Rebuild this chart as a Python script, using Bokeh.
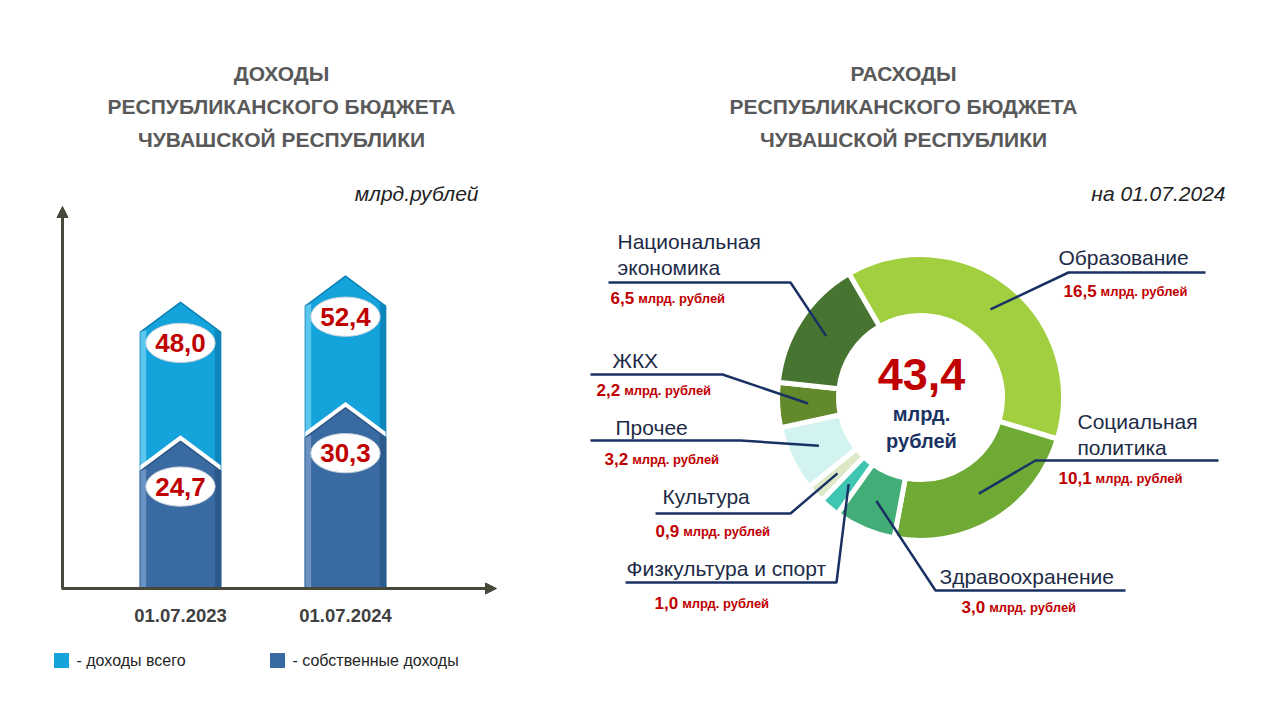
import math
from bokeh.plotting import figure
from bokeh.models import Range1d, ColumnDataSource, Arrow, NormalHead
from bokeh.core.properties import value
from bokeh.embed import file_html
from bokeh.resources import INLINE

W, H = 1280, 720

# ---------------- data ----------------
bar_dates = ["01.07.2023", "01.07.2024"]
total_income = [48.0, 52.4]
own_income = [24.7, 30.3]
legend_labels = ["- доходы всего", "- собственные доходы"]

exp_categories = ["Образование", "Социальная политика", "Здравоохранение",
                  "Физкультура и спорт", "Культура", "Прочее", "ЖКХ",
                  "Национальная экономика"]
exp_values = [16.5, 10.1, 3.0, 1.0, 0.9, 3.2, 2.2, 6.5]
exp_total = 43.4
exp_colors = ["#a2cf3f", "#6eaa34", "#43ad78", "#3fc6b2", "#dde8c6",
              "#d3f3f0", "#62892a", "#477531"]

left_title = ["ДОХОДЫ", "РЕСПУБЛИКАНСКОГО БЮДЖЕТА", "ЧУВАШСКОЙ РЕСПУБЛИКИ"]
right_title = ["РАСХОДЫ", "РЕСПУБЛИКАНСКОГО БЮДЖЕТА", "ЧУВАШСКОЙ РЕСПУБЛИКИ"]

FONT = value("Liberation Sans")
RED = "#c00000"
NAVY = "#1a3263"
GREY = "#595959"
LIGHT = "#14a3da"
DARK = "#3a6aa2"


def Y(sy):
    return H - sy


def fmt(v):
    return f"{v:.1f}".replace(".", ",")


p = figure(width=W, height=H, x_range=Range1d(0, W), y_range=Range1d(0, H),
           output_backend="svg", toolbar_location=None, min_border=0,
           x_axis_location=None, y_axis_location=None, outline_line_color=None,
           background_fill_color="white", border_fill_color="white")
p.grid.visible = False

# ---------------- titles ----------------
for cx, lines in [(281, left_title), (903, right_title)]:
    p.text(x=[cx] * 3, y=[Y(73), Y(106), Y(139)], text=lines,
           text_align="center", text_baseline="middle", text_font=FONT,
           text_font_size="21px", text_font_style="bold", text_color=GREY)

p.text(x=[478], y=[Y(193)], text=["млрд.рублей"], text_align="right",
       text_baseline="middle", text_font=FONT, text_font_size="21px",
       text_font_style="italic", text_color="#222222")
p.text(x=[1225], y=[Y(193)], text=["на 01.07.2024"], text_align="right",
       text_baseline="middle", text_font=FONT, text_font_size="21px",
       text_font_style="italic", text_color="#222222")

# ---------------- bar chart scales ----------------
base_sy = 588
k = 5.96          # px per unit
cat_x0, cat_step = 180, 165
p.extra_y_ranges = {"val": Range1d(start=-(H - base_sy) / k, end=base_sy / k)}
p.extra_x_ranges = {"cat": Range1d(start=-cat_x0 / cat_step, end=(W - cat_x0) / cat_step)}

hw = 0.243   # half bar width (cat units)
a = 5.0      # arrow tip height (value units)
idx = list(range(len(bar_dates)))


def chevron(i, v):
    return [i - hw, i - hw, i, i + hw, i + hw], [0, v - a, v, v - a, 0]


def strip(i, v, left=True):
    # narrow bevel strip along a side edge
    s = 0.035
    if left:
        return [i - hw, i - hw, i - hw + s, i - hw + s], [0, v - a, v - a + 0.4, 0]
    return [i + hw - s, i + hw - s, i + hw, i + hw], [0, v - a + 0.4, v - a, 0]


lx, ly = zip(*[chevron(i, v) for i, v in zip(idx, total_income)])
p.patches(xs=list(lx), ys=list(ly), fill_color=LIGHT, line_color="#0b7fb3",
          line_width=1.5, x_range_name="cat", y_range_name="val")
sx, sy = zip(*[strip(i, v, True) for i, v in zip(idx, total_income)])
p.patches(xs=list(sx), ys=list(sy), fill_color="#5cc6ee", line_color=None,
          x_range_name="cat", y_range_name="val")
sx, sy = zip(*[strip(i, v, False) for i, v in zip(idx, total_income)])
p.patches(xs=list(sx), ys=list(sy), fill_color="#0c86bb", line_color=None,
          x_range_name="cat", y_range_name="val")

wx, wy = zip(*[chevron(i, v + 1.0) for i, v in zip(idx, own_income)])
p.patches(xs=list(wx), ys=list(wy), fill_color="white", line_color=None,
          x_range_name="cat", y_range_name="val")
dx, dy = zip(*[chevron(i, v) for i, v in zip(idx, own_income)])
p.patches(xs=list(dx), ys=list(dy), fill_color=DARK, line_color="#2c5686",
          line_width=1.5, x_range_name="cat", y_range_name="val")
sx, sy = zip(*[strip(i, v, True) for i, v in zip(idx, own_income)])
p.patches(xs=list(sx), ys=list(sy), fill_color="#6a93c4", line_color=None,
          x_range_name="cat", y_range_name="val")
sx, sy = zip(*[strip(i, v, False) for i, v in zip(idx, own_income)])
p.patches(xs=list(sx), ys=list(sy), fill_color="#2d5a8c", line_color=None,
          x_range_name="cat", y_range_name="val")

# value ellipses and labels
ell_y = [v - 6.8 for v in total_income] + [v - 7.6 for v in own_income]
ell_x = idx + idx
p.ellipse(x=ell_x, y=ell_y, width=0.42, height=6.6, fill_color="white",
          line_color="#c8d2dc", line_width=1, x_range_name="cat", y_range_name="val")
p.text(x=ell_x, y=ell_y, text=[fmt(v) for v in total_income + own_income],
       text_align="center", text_baseline="middle", text_font=FONT,
       text_font_size="26px", text_font_style="bold", text_color=RED,
       x_range_name="cat", y_range_name="val")

# category labels
p.text(x=idx, y=[Y(615)] * len(idx), text=bar_dates, text_align="center",
       text_baseline="middle", text_font=FONT, text_font_size="18.5px",
       text_font_style="bold", text_color="#404040", x_range_name="cat")

# axes with arrows
AX = "#47473a"
p.add_layout(Arrow(end=NormalHead(size=11, fill_color=AX, line_color=AX),
                   x_start=62, y_start=Y(588), x_end=62, y_end=Y(206),
                   line_color=AX, line_width=3))
p.add_layout(Arrow(end=NormalHead(size=11, fill_color=AX, line_color=AX),
                   x_start=61, y_start=Y(588), x_end=496, y_end=Y(588),
                   line_color=AX, line_width=3))

# legend
p.rect(x=[61, 277], y=[Y(660)] * 2, width=15, height=15,
       fill_color=[LIGHT, DARK], line_color=None)
p.text(x=[76, 292], y=[Y(660)] * 2, text=legend_labels, text_align="left",
       text_baseline="middle", text_font=FONT, text_font_size="16px",
       text_color="#262626")

# ---------------- donut ----------------
cx, cy = 920, Y(397)
r_in, r_out = 82, 143
start_deg = 120.0
tot = sum(exp_values)
starts, ends, mids = [], [], []
cum = 0.0
for v in exp_values:
    a0 = start_deg - cum / tot * 360.0
    a1 = a0 - v / tot * 360.0
    starts.append(math.radians(a0))
    ends.append(math.radians(a1))
    mids.append(math.radians((a0 + a1) / 2))
    cum += v

src = ColumnDataSource(dict(start=starts, end=ends, color=exp_colors, cat=exp_categories))
p.annular_wedge(x=cx, y=cy, inner_radius=r_in, outer_radius=r_out,
                start_angle="start", end_angle="end", direction="clock",
                fill_color="color", line_color="white", line_width=5, source=src)

# center text
p.text(x=[cx + 1], y=[Y(374)], text=[fmt(exp_total)], text_align="center",
       text_baseline="middle", text_font=FONT, text_font_size="45px",
       text_font_style="bold", text_color=RED)
p.text(x=[cx + 1, cx + 1], y=[Y(413), Y(440)], text=["млрд.", "рублей"],
       text_align="center", text_baseline="middle", text_font=FONT,
       text_font_size="20px", text_font_style="bold", text_color=NAVY)

# labels layout: name lines, (x, y) of names, leader (x_outer, x_inner, y), value pos
layout = {
    "Образование": (["Образование"], (1058, 257), (1205, 1068, 272), (1063, 290)),
    "Социальная политика": (["Социальная", "политика"], (1077, 421), (1218, 1035, 460), (1058, 477)),
    "Здравоохранение": (["Здравоохранение"], (939, 576), (1125, 935, 590), (961, 606)),
    "Физкультура и спорт": (["Физкультура и спорт"], (626, 568), (625, 836, 582), (654, 602)),
    "Культура": (["Культура"], (662, 496), (655, 790, 513), (655, 530)),
    "Прочее": (["Прочее"], (615, 427), (590, 740, 440), (604, 458)),
    "ЖКХ": (["ЖКХ"], (612, 360), (590, 722, 374), (596, 389)),
    "Национальная экономика": (["Национальная", "экономика"], (617, 241), (608, 790, 282), (610, 297)),
}

r_mid = (r_in + r_out) / 2
lxs, lys = [], []
nx, ny, nt = [], [], []
vx, vy, vt = [], [], []
ux, uy = [], []
for cat, v, m in zip(exp_categories, exp_values, mids):
    names, (tx, ty), (xo, xi, ly_), (vx0, vy0) = layout[cat]
    px = cx + r_mid * math.cos(m)
    py = cy + r_mid * math.sin(m)
    lxs.append([xo, xi, px])
    lys.append([Y(ly_), Y(ly_), py])
    for j, nm in enumerate(names):
        nx.append(tx)
        ny.append(Y(ty + 26 * j))
        nt.append(nm)
    s = fmt(v)
    vx.append(vx0)
    vy.append(Y(vy0))
    vt.append(s)
    wnum = sum(0.278 if ch == "," else 0.556 for ch in s) * 17
    ux.append(vx0 + wnum + 4)
    uy.append(Y(vy0 + 1))

p.multi_line(xs=lxs, ys=lys, line_color=NAVY, line_width=2.5)
p.text(x=nx, y=ny, text=nt, text_align="left", text_baseline="middle",
       text_font=FONT, text_font_size="21px", text_color="#1d2b47")
p.text(x=vx, y=vy, text=vt, text_align="left", text_baseline="middle",
       text_font=FONT, text_font_size="17px", text_font_style="bold", text_color=RED)
p.text(x=ux, y=uy, text=["млрд. рублей"] * len(ux), text_align="left",
       text_baseline="middle", text_font=FONT, text_font_size="13px",
       text_font_style="bold", text_color=RED)

open("out.html", "w").write(file_html(p, INLINE))
